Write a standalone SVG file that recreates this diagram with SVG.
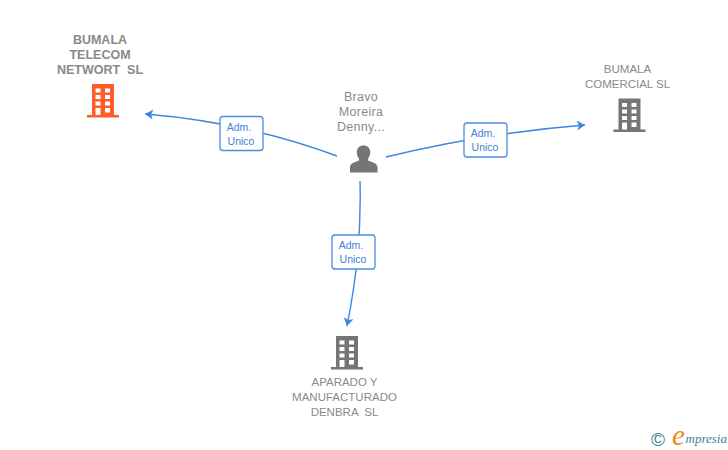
<svg xmlns="http://www.w3.org/2000/svg" width="728" height="450" viewBox="0 0 728 450">
<style>
text{font-family:"Liberation Sans",Arial,sans-serif;text-anchor:middle}
.n{font-size:11.5px;fill:#8a8a8a}
.b{font-weight:bold;font-size:12.500px}
.p{font-size:12.500px;fill:#8a8a8a;letter-spacing:.3px}
.e{fill:none;stroke:#3f86e4;stroke-width:1.4;}
.a{marker-end:url(#arr)}
.l{fill:#fff;stroke:#4a8ce6;stroke-width:1.3}
.t{font-size:10.500px;fill:#3f7fd8}
.g{fill:#757575}
.r{fill:#ff5c2b}
</style>
<defs>
<marker id="arr" markerUnits="userSpaceOnUse" markerWidth="12" markerHeight="12" refX="8" refY="5" orient="auto">
<path d="M0 0 L8 5 L0 10 L2 5 Z" fill="#3f86e4"/>
</marker>
<path id="bld" fill-rule="evenodd" d="M5 0H27V31H32V33.500H0V31H5ZM8.500 4.500V8.500H13.500V4.500ZM18 4.500V8.500H23V4.500ZM8.500 11V15H13.500V11ZM18 11V15H23V11ZM8.500 17.500V21.500H13.500V17.500ZM18 17.500V21.500H23V17.500ZM8.500 24V31H13.500V24ZM18 24V28.500H23V24Z"/>
</defs>
<g id="connectors">
<path class="e a" d="M337 156Q245 122 145 114"/>
<path class="e a" d="M386 157Q484 133 585 125"/>
<path class="e a" d="M360 181Q362 252 347 326"/>
</g>
<g id="edge-label-1"><rect class="l" x="220" y="116.500" width="43" height="34" rx="3"/><text class="t" x="239" y="130.500">Adm.</text><text class="t" x="241" y="145">Unico</text></g>
<g id="edge-label-2"><rect class="l" x="464" y="123" width="43" height="34" rx="3"/><text class="t" x="483" y="136.500">Adm.</text><text class="t" x="485" y="151">Unico</text></g>
<g id="edge-label-3"><rect class="l" x="332" y="235" width="43" height="34" rx="3"/><text class="t" x="351" y="248.500">Adm.</text><text class="t" x="353" y="263">Unico</text></g>
<g id="node-bumala-telecom">
<text class="n b" x="100" y="44">BUMALA</text><text class="n b" x="100" y="59">TELECOM</text><text class="n b" x="100" y="74" xml:space="preserve">NETWORT  SL</text>
<use href="#bld" class="r" x="87" y="84"/>
</g>
<g id="node-bravo">
<text class="p" x="361" y="101">Bravo</text><text class="p" x="361" y="116">Moreira</text><text class="p" x="361" y="131">Denny...</text>
<path class="g" d="M350 172.500V167C350 163 356 162 359 160.500V158.500C357.500 157 356.800 154.500 356.800 152.500C356.800 148 359.500 145.500 363.500 145.500C367.500 145.500 370.200 148 370.200 152.500C370.200 154.500 369.500 157 368 158.500V160.500C371 162 377.500 163 377.500 167V172.500Z"/>
</g>
<g id="node-bumala-comercial">
<text class="n" x="627.500" y="73">BUMALA</text><text class="n" x="627.500" y="88">COMERCIAL SL</text>
<use href="#bld" class="g" x="613.500" y="98.500"/>
</g>
<g id="node-aparado">
<use href="#bld" class="g" x="331" y="336"/>
<text class="n" x="344.500" y="386">APARADO Y</text><text class="n" x="344.500" y="401">MANUFACTURADO</text><text class="n" x="344.500" y="416" xml:space="preserve">DENBRA  SL</text>
</g>
<g id="logo">
<text x="658" y="445.500" style="font-size:19px;fill:#3d7f99">©</text>
<text x="678.500" y="445" style="font-family:'Liberation Serif',serif;font-style:italic;font-size:29px;fill:#f08a1d">e</text>
<text x="685.500" y="443" style="font-family:'Liberation Serif',serif;font-style:italic;font-size:13px;fill:#3d7f99;text-anchor:start">mpresia</text>
</g>
</svg>
